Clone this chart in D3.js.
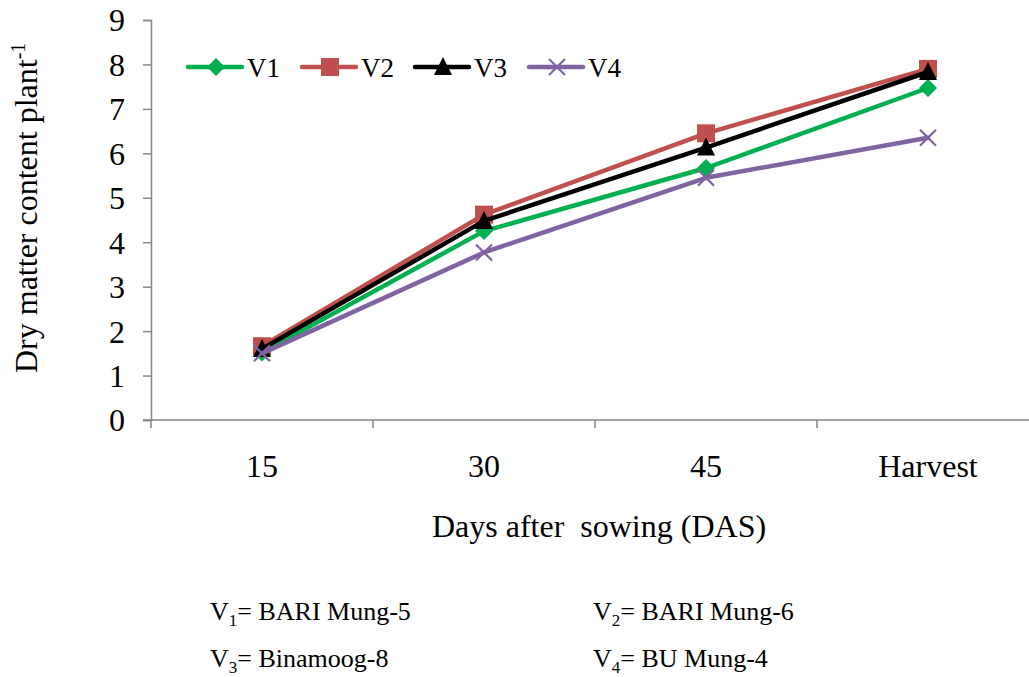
<!DOCTYPE html>
<html>
<head>
<meta charset="utf-8">
<script src="https://cdn.jsdelivr.net/npm/d3@7"></script>
<style>
  html, body { margin: 0; padding: 0; background: #fff; }
  svg { display: block; font-family: "Liberation Serif", "Times New Roman", serif; }
</style>
</head>
<body>
<svg id="chart" width="1029" height="677"></svg>
<script>
// Sampling stages (x axis)
const stages = ["15", "30", "45", "Harvest"];
// Dry matter content per plant for each mungbean variety
const seriesNames = ["V1", "V2", "V3", "V4"];
const v1 = [1.52, 4.25, 5.67, 7.47];
const v2 = [1.66, 4.62, 6.45, 7.90];
const v3 = [1.60, 4.48, 6.13, 7.83];
const v4 = [1.50, 3.77, 5.45, 6.35];
const yTicks = [0, 1, 2, 3, 4, 5, 6, 7, 8, 9];
const varietyNotes = [
  ["1", "= BARI Mung-5"], ["2", "= BARI Mung-6"],
  ["3", "= Binamoog-8"], ["4", "= BU Mung-4"]
];

const colors = { V1: "#00B050", V2: "#C0504D", V3: "#000000", V4: "#8064A2" };
const markers = { V1: "diamond", V2: "square", V3: "triangle", V4: "cross" };
const values = { V1: v1, V2: v2, V3: v3, V4: v4 };
const series = seriesNames.map(n => ({ name: n, values: values[n], marker: markers[n] }));

const svg = d3.select("#chart");
const plot = { left: 151, right: 1039, top: 20, bottom: 420 };

const x = d3.scaleBand().domain(stages).range([plot.left, plot.right]).padding(0);
const y = d3.scaleLinear().domain([0, 9]).range([plot.bottom, plot.top]);
const axisColor = "#868686";

// Y axis
const yAxis = svg.append("g")
  .attr("transform", `translate(${plot.left},0)`)
  .call(d3.axisLeft(y).tickValues(yTicks).tickSize(8).tickPadding(18).tickFormat(d3.format("d")));
yAxis.select(".domain").attr("stroke", axisColor).attr("stroke-width", 1.5);
yAxis.selectAll(".tick line").attr("stroke", axisColor).attr("stroke-width", 1.5);
yAxis.selectAll(".tick text")
  .attr("font-family", "Liberation Serif").attr("font-size", 32).attr("fill", "#000")
  .attr("dy", "0.34em");

// X axis: band boundaries carry the ticks, labels sit at band centres
const xAxisG = svg.append("g").attr("transform", `translate(0,${plot.bottom})`);
xAxisG.append("line")
  .attr("x1", plot.left - 8).attr("x2", 1029)
  .attr("stroke", axisColor).attr("stroke-width", 1.5);
const boundaries = stages.map(s => x(s));
xAxisG.selectAll("line.tk").data(boundaries).join("line")
  .attr("class", "tk")
  .attr("x1", d => d).attr("x2", d => d).attr("y1", 0).attr("y2", 8)
  .attr("stroke", axisColor).attr("stroke-width", 1.5);
xAxisG.selectAll("text").data(stages).join("text")
  .attr("x", d => x(d) + x.bandwidth() / 2)
  .attr("y", 57)
  .attr("text-anchor", "middle")
  .attr("font-size", 32)
  .text(d => d);

// Axis titles
svg.append("text")
  .attr("x", 599).attr("y", 537)
  .attr("text-anchor", "middle")
  .attr("font-size", 32)
  .style("white-space", "pre")
  .text("Days after  sowing (DAS)");

const yTitle = svg.append("text")
  .attr("transform", "translate(37,373) rotate(-90)")
  .attr("text-anchor", "start")
  .attr("font-size", 32);
yTitle.append("tspan").text("Dry matter content plant");
yTitle.append("tspan").attr("dy", -12).attr("font-size", 20).text("-1");

// Marker shapes
function drawMarker(g, type, color) {
  if (type === "diamond") {
    g.append("path").attr("d", "M0,-9 L9,0 L0,9 L-9,0 Z").attr("fill", color);
  } else if (type === "square") {
    g.append("rect").attr("x", -9).attr("y", -9).attr("width", 18).attr("height", 18).attr("fill", color);
  } else if (type === "triangle") {
    g.append("path").attr("d", "M0,-10 L9,8 L-9,8 Z").attr("fill", color);
  } else {
    g.append("path").attr("d", "M-8,-8 L8,8 M-8,8 L8,-8")
      .attr("stroke", color).attr("stroke-width", 2.2).attr("fill", "none");
  }
}

const cx = s => x(s) + x.bandwidth() / 2;
const line = d3.line().x((d, i) => cx(stages[i])).y(d => y(d));

// Lines and markers, drawn in series order so later ones overlap earlier ones
series.forEach(s => {
  svg.append("path")
    .datum(s.values)
    .attr("d", line)
    .attr("fill", "none")
    .attr("stroke", colors[s.name])
    .attr("stroke-width", 4.5)
    .attr("stroke-linejoin", "round")
    .attr("stroke-linecap", "round");
  s.values.forEach((v, i) => {
    const g = svg.append("g").attr("transform", `translate(${cx(stages[i])},${y(v)})`);
    drawMarker(g, s.marker, colors[s.name]);
  });
});

// Legend
const legendX = [188, 302, 415, 529];
series.forEach((s, i) => {
  const g = svg.append("g").attr("transform", `translate(${legendX[i]},67)`);
  g.append("line").attr("x1", 0).attr("x2", 54)
    .attr("stroke", colors[s.name]).attr("stroke-width", 4.5).attr("stroke-linecap", "round");
  const m = g.append("g").attr("transform", "translate(28,0)");
  drawMarker(m, s.marker, colors[s.name]);
  g.append("text").attr("x", 59).attr("y", 10).attr("font-size", 27).text(s.name);
});

// Variety key below the chart
const notePos = [[210, 620], [593, 620], [210, 667], [593, 667]];
varietyNotes.forEach((n, i) => {
  const t = svg.append("text")
    .attr("x", notePos[i][0]).attr("y", notePos[i][1])
    .attr("font-size", 26);
  t.append("tspan").text("V");
  t.append("tspan").attr("dy", 6).attr("font-size", 17).text(n[0]);
  t.append("tspan").attr("dy", -6).text(n[1]);
});
</script>
</body>
</html>
